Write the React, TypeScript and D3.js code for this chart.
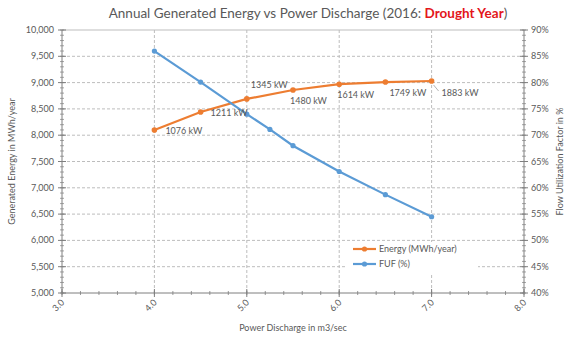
import React from "react";
import * as d3 from "d3";

const energyX = [4.0, 4.5, 5.0, 5.5, 6.0, 6.5, 7.0];
const energyY = [8100, 8440, 8690, 8860, 8970, 9010, 9030];
const powerLabels = ["1076 kW", "1211 kW", "1345 kW", "1480 kW", "1614 kW", "1749 kW", "1883 kW"];
const fufX = [4.0, 4.5, 5.0, 5.25, 5.5, 6.0, 6.5, 7.0];
const fufY = [86.0, 80.1, 74.0, 71.1, 68.0, 63.1, 58.7, 54.5];
const xTicks = [3, 4, 5, 6, 7, 8];
const yLeftTicks = [5000, 5500, 6000, 6500, 7000, 7500, 8000, 8500, 9000, 9500, 10000];
const yRightTicks = [40, 45, 50, 55, 60, 65, 70, 75, 80, 85, 90];
// label offsets (dx, dy) relative to point
const labelOffsets: [number, number][] = [
  [11, 4], [10, 4], [4, -11], [-3, 14], [-2, 14], [4, 14], [10, 15],
];

const W = 573, H = 340;
const L = 62, R = 524, T = 30, B = 293;
const ORANGE = "#ED7D31";
const BLUE = "#5B9BD5";
const TXT = "#595959";
const FONT = "Lato, 'Open Sans', sans-serif";

export default function App() {
  const x = d3.scaleLinear().domain([3, 8]).range([L, R]);
  const yL = d3.scaleLinear().domain([5000, 10000]).range([B, T]);
  const yR = d3.scaleLinear().domain([40, 90]).range([B, T]);

  const eData = energyX.map((v, i) => [v, energyY[i]] as [number, number]);
  const fData = fufX.map((v, i) => [v, fufY[i]] as [number, number]);
  const eLine = d3.line<[number, number]>().x(d => x(d[0])).y(d => yL(d[1]));
  const fLine = d3.line<[number, number]>().x(d => x(d[0])).y(d => yR(d[1]));

  const xMinor = d3.range(3, 8.0001, 0.2);
  const yLMinor = d3.range(5000, 10000.1, 100);
  const yRMinor = d3.range(40, 90.01, 1);

  return (
    <svg width={W} height={H} style={{ position: "fixed", left: 0, top: 0, background: "#fff" }} fontFamily={FONT}>
      <rect x={0} y={0} width={W} height={H} fill="#fff" />
      <text x={308} y={18} textAnchor="middle" fontSize={13.5} fill={TXT}>
        Annual Generated Energy vs Power Discharge (2016: <tspan fill="#E3161B" fontWeight="bold">Drought Year</tspan>)
      </text>
      {/* gridlines */}
      {yLeftTicks.slice(1, -1).map(v => (
        <line key={"gy" + v} x1={L} x2={R} y1={yL(v)} y2={yL(v)} stroke="#bdbdbd" strokeDasharray="3,2" />
      ))}
      {xTicks.slice(1, -1).map(v => (
        <line key={"gx" + v} x1={x(v)} x2={x(v)} y1={T} y2={B} stroke="#bdbdbd" strokeDasharray="3,2" />
      ))}
      <line x1={L} x2={R} y1={T} y2={T} stroke="#bdbdbd" />
      {/* axes */}
      <line x1={L} x2={L} y1={T} y2={B} stroke="#7f7f7f" />
      <line x1={R} x2={R} y1={T} y2={B} stroke="#7f7f7f" />
      <line x1={L} x2={R} y1={B} y2={B} stroke="#7f7f7f" />
      {yLMinor.map(v => (
        <line key={"lm" + v} x1={L - 2} x2={L + 2} y1={yL(v)} y2={yL(v)} stroke="#7f7f7f" strokeWidth={0.7} />
      ))}
      {yLeftTicks.map(v => (
        <line key={"lM" + v} x1={L - 4} x2={L + 4} y1={yL(v)} y2={yL(v)} stroke="#7f7f7f" />
      ))}
      {yRMinor.map(v => (
        <line key={"rm" + v} x1={R - 2} x2={R + 2} y1={yR(v)} y2={yR(v)} stroke="#7f7f7f" strokeWidth={0.7} />
      ))}
      {yRightTicks.map(v => (
        <line key={"rM" + v} x1={R - 4} x2={R + 4} y1={yR(v)} y2={yR(v)} stroke="#7f7f7f" />
      ))}
      {xMinor.map(v => (
        <line key={"xm" + v} x1={x(v)} x2={x(v)} y1={B - 2} y2={B + 2} stroke="#7f7f7f" strokeWidth={0.8} />
      ))}
      {xTicks.map(v => (
        <line key={"xM" + v} x1={x(v)} x2={x(v)} y1={B - 4} y2={B + 4} stroke="#7f7f7f" />
      ))}
      {/* tick labels */}
      {yLeftTicks.map(v => (
        <text key={"lt" + v} x={L - 8} y={yL(v) + 3} textAnchor="end" fontSize={9} fill={TXT}>
          {d3.format(",")(v)}
        </text>
      ))}
      {yRightTicks.map(v => (
        <text key={"rt" + v} x={R + 7} y={yR(v) + 3} textAnchor="start" fontSize={9} fill={TXT}>
          {v + "%"}
        </text>
      ))}
      {xTicks.map(v => (
        <text key={"xt" + v} transform={`translate(${x(v) + 3},${B + 10}) rotate(-45)`} textAnchor="end" fontSize={9} fill={TXT}>
          {v.toFixed(1)}
        </text>
      ))}
      {/* axis titles */}
      <text transform={`translate(15,${(T + B) / 2}) rotate(-90)`} textAnchor="middle" fontSize={9} fill={TXT}>
        Generated Energy in MWh/year
      </text>
      <text transform={`translate(563,${(T + B) / 2}) rotate(-90)`} textAnchor="middle" fontSize={9} fill={TXT}>
        Flow Utilization Factor in %
      </text>
      <text x={(L + R) / 2} y={331} textAnchor="middle" fontSize={9} fill={TXT}>
        Power Discharge in m3/sec
      </text>
      {/* series */}
      <path d={eLine(eData) || ""} fill="none" stroke={ORANGE} strokeWidth={2.2} />
      {eData.map((d, i) => (
        <circle key={"ep" + i} cx={x(d[0])} cy={yL(d[1])} r={2.8} fill={ORANGE} />
      ))}
      <path d={fLine(fData) || ""} fill="none" stroke={BLUE} strokeWidth={2.2} />
      {fData.map((d, i) => (
        <circle key={"fp" + i} cx={x(d[0])} cy={yR(d[1])} r={2.6} fill={BLUE} />
      ))}
      {/* data labels */}
      <line x1={x(7.0) + 2} y1={yL(9030) + 4} x2={x(7.0) + 7} y2={yL(9030) + 10} stroke="#a0a0a0" strokeWidth={0.8} />
      {eData.map((d, i) => (
        <text key={"lb" + i} x={x(d[0]) + labelOffsets[i][0]} y={yL(d[1]) + labelOffsets[i][1]} fontSize={9} fill={TXT}>
          {powerLabels[i]}
        </text>
      ))}
      {/* legend */}
      <rect x={345} y={242} width={133} height={33} fill="#fff" />
      <line x1={353} x2={376} y1={249} y2={249} stroke={ORANGE} strokeWidth={2.2} />
      <circle cx={364.5} cy={249} r={2.6} fill={ORANGE} />
      <text x={379} y={252} fontSize={9} fill={TXT}>Energy (MWh/year)</text>
      <line x1={353} x2={376} y1={264} y2={264} stroke={BLUE} strokeWidth={2.2} />
      <circle cx={364.5} cy={264} r={2.6} fill={BLUE} />
      <text x={379} y={267} fontSize={9} fill={TXT}>FUF (%)</text>
    </svg>
  );
}
